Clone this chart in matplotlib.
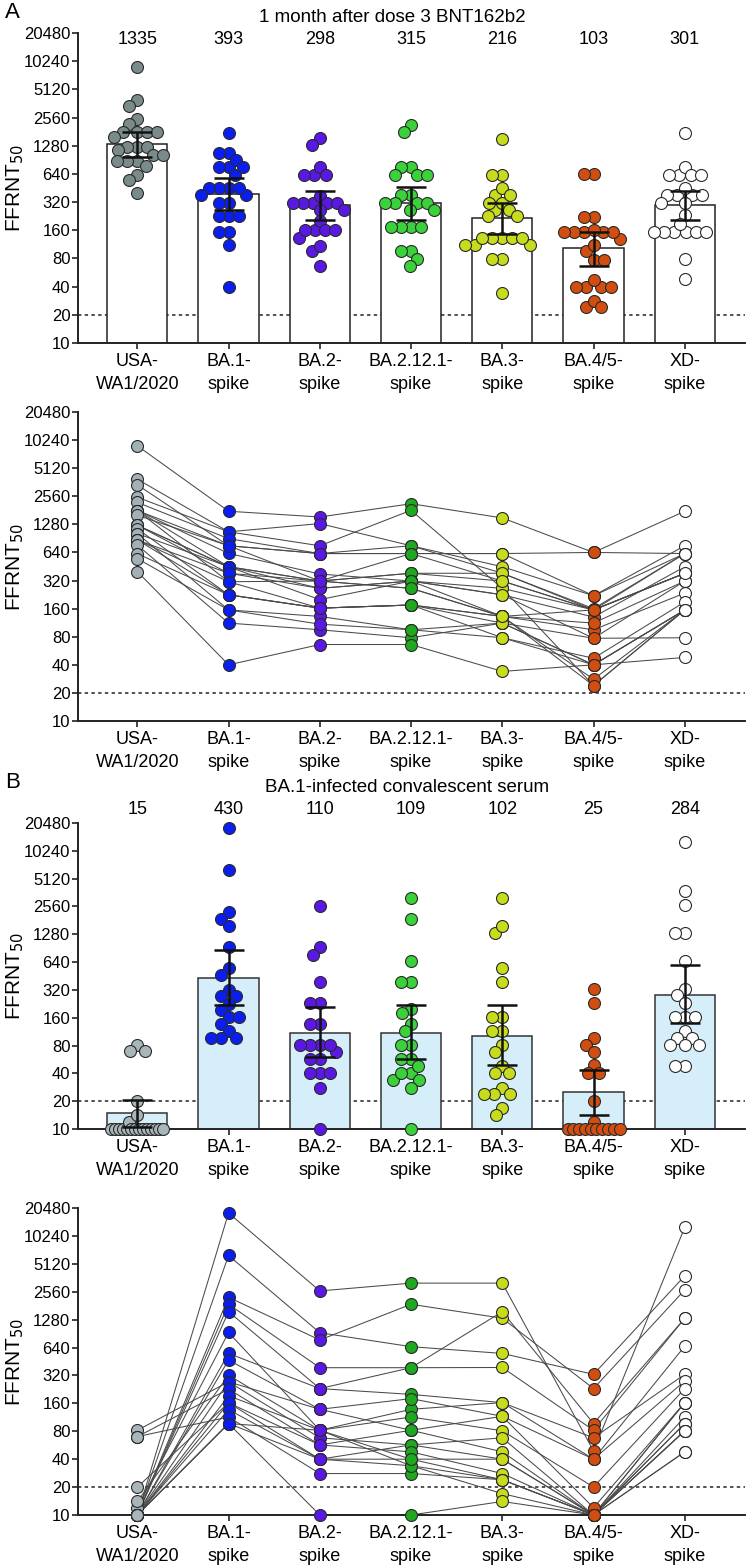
import numpy as np
import matplotlib
matplotlib.use('Agg')
import matplotlib.pyplot as plt
from matplotlib.transforms import blended_transform_factory

plt.rcParams['font.family'] = ['Liberation Sans', 'DejaVu Sans']

CATS = ['USA-\nWA1/2020', 'BA.1-\nspike', 'BA.2-\nspike', 'BA.2.12.1-\nspike',
        'BA.3-\nspike', 'BA.4/5-\nspike', 'XD-\nspike']
YTICKS = [10, 20, 40, 80, 160, 320, 640, 1280, 2560, 5120, 10240, 20480]

# ---- panel A: 1 month after dose 3 BNT162b2 (one entry per serum, same order in every list)
a_usa   = [8900, 3900, 3400, 2500, 2200, 1800, 1800, 1800, 1800, 1600, 1250, 1250,
           1250, 1150, 1020, 1020, 870, 870, 870, 770, 620, 550, 400]
a_ba1   = [1770, 1065, 755, 1065, 900, 450, 755, 625, 311, 755, 450, 383,
           450, 225, 450, 155, 383, 225, 311, 112, 225, 155, 40]
a_ba2   = [1535, 1305, 623, 755, 623, 316, 623, 376, 162, 316, 264, 316,
           200, 162, 316, 132, 264, 162, 316, 95, 162, 109, 66]
a_ba212 = [2130, 755, 623, 1810, 755, 383, 623, 316, 175, 383, 316, 264,
           316, 175, 623, 95, 316, 175, 264, 78, 175, 95, 66]
a_ba3   = [1500, 383, 623, 264, 450, 316, 623, 225, 112, 383, 264, 132,
           225, 132, 316, 112, 132, 78, 132, 112, 132, 78, 34]
a_ba45  = [640, 155, 640, 24, 220, 155, 220, 77, 40, 160, 155, 95,
           130, 28, 155, 40, 112, 47, 155, 77, 24, 40, 40]
a_xd    = [1770, 383, 623, 155, 755, 383, 623, 316, 155, 623, 383, 235,
           450, 155, 623, 155, 316, 189, 383, 78, 155, 155, 48]
a_gmt   = [1335, 393, 298, 315, 216, 103, 301]
a_ci_lo = [964, 264, 204, 207, 147, 67, 207]
a_ci_hi = [1810, 576, 422, 469, 311, 155, 422]

# ---- panel B: BA.1-infected convalescent serum
b_usa   = [10, 10, 10, 10, 10, 12, 10, 10, 14, 82, 10, 70, 10, 10, 20, 10, 70, 10, 10, 10]
b_ba1   = [18100, 6300, 2230, 1875, 1560, 930, 553, 469, 322, 273, 273, 228,
           193, 162, 162, 137, 114, 97, 97, 97]
b_ba2   = [2610, 925, 772, 388, 231, 82, 231, 138, 82, 138, 68, 57,
           82, 40, 57, 40, 28, 82, 40, 10]
b_ba212 = [3170, 654, 1875, 388, 388, 138, 200, 180, 114, 82, 57, 82,
           40, 57, 48, 34, 28, 34, 40, 10]
b_ba3   = [3170, 553, 1325, 1560, 390, 163, 163, 116, 81, 116, 68, 48,
           40, 40, 28, 24, 24, 17, 24, 14]
b_ba45  = [49, 329, 231, 97, 82, 40, 68, 40, 20, 12, 10, 10, 10, 10, 10, 10, 10, 10, 10, 10]
b_xd    = [12700, 3800, 2680, 1325, 1325, 663, 329, 279, 231, 163, 163, 163,
           114, 97, 97, 81, 81, 81, 48, 48]
b_gmt   = [15, 430, 110, 109, 102, 25, 284]
b_ci_lo = [10.5, 222, 60, 57, 49, 14.3, 140]
b_ci_hi = [20.5, 874, 209, 222, 220, 43.3, 601]

A_GROUPS = [a_usa, a_ba1, a_ba2, a_ba212, a_ba3, a_ba45, a_xd]
B_GROUPS = [b_usa, b_ba1, b_ba2, b_ba212, b_ba3, b_ba45, b_xd]

COL_A1 = ['#7b8b8b', '#0b1ef0', '#5a18e4', '#3bd13b', '#c6dc1c', '#d24e10', 'white']
COL_A2 = ['#a2b1b5', '#0b1ef0', '#5a18e4', '#20a820', '#c6dc1c', '#d24e10', 'white']
COL_B1 = ['#a9b6b9', '#0b1ef0', '#5a18e4', '#3bd13b', '#c6dc1c', '#d24e10', 'white']
COL_B2 = ['#a9b6b9', '#0b1ef0', '#5a18e4', '#20a820', '#c6dc1c', '#d24e10', 'white']

W, H = 750, 1566
fig = plt.figure(figsize=(W / 100, H / 100), dpi=100)

def axes_px(left, top, right, bottom):
    return fig.add_axes([left / W, 1 - bottom / H, (right - left) / W, (bottom - top) / H])

ax1 = axes_px(78, 33, 745, 343)
ax2 = axes_px(78, 412, 745, 721)
ax3 = axes_px(78, 823, 745, 1129)
ax4 = axes_px(78, 1208, 745, 1515)

XLIM = (-0.65, 6.66)
MS = 74
D_PX = 10.0
ROW_MAX_PX = 62.0


def style(ax):
    ax.set_yscale('log', base=2)
    ax.set_ylim(10, 20480)
    ax.set_xlim(*XLIM)
    ax.set_yticks(YTICKS)
    ax.set_yticklabels([str(t) for t in YTICKS], fontsize=12)
    ax.yaxis.set_minor_locator(matplotlib.ticker.NullLocator())
    ax.set_xticks(range(7))
    ax.set_xticklabels(CATS, fontsize=13, linespacing=1.45)
    ax.tick_params(axis='both', length=4, width=1.2, color='#222222')
    ax.tick_params(axis='x', pad=3)
    ax.tick_params(axis='y', pad=1.5)
    for s in ['top', 'right']:
        ax.spines[s].set_visible(False)
    for s in ['left', 'bottom']:
        ax.spines[s].set_linewidth(1.4)
        ax.spines[s].set_color('#222222')
    ax.axhline(20, color='#222222', ls=(0, (2.2, 2.2)), lw=1.1, zorder=1)
    ax.set_ylabel('FFRNT$_{50}$', fontsize=15)
    ax.yaxis.set_label_coords(-0.078, 0.5)


def swarm(vals, ax):
    bb = ax.get_position()
    px_x = bb.width * W / (XLIM[1] - XLIM[0])
    px_oct = bb.height * H / np.log2(20480 / 10)
    vals = np.array(vals, dtype=float)
    ys = np.log2(vals) * px_oct
    xs = np.zeros(len(ys))
    done = np.zeros(len(ys), bool)
    # rows of tied values too wide for the bar are packed evenly with overlap
    for v in np.unique(vals):
        idx = np.where(vals == v)[0]
        if len(idx) * D_PX > ROW_MAX_PX + D_PX:
            xs[idx] = np.linspace(-(ROW_MAX_PX - D_PX) / 2, (ROW_MAX_PX - D_PX) / 2, len(idx))
            done[idx] = True
    placed = []
    for i in np.argsort(-ys, kind='stable'):
        if done[i]:
            continue
        y = ys[i]
        cands = [0.0]
        for px, py in placed:
            dy = y - py
            if abs(dy) < D_PX:
                dx = np.sqrt(D_PX ** 2 - dy ** 2)
                cands += [px + dx, px - dx]
        cands.sort(key=lambda c: (round(abs(c), 3), c))
        for c in cands:
            if all((c - px) ** 2 + (y - py) ** 2 >= D_PX ** 2 - 1e-6 for px, py in placed):
                xs[i] = c
                break
        placed.append((xs[i], y))
    return xs / px_x


def bar_panel(ax, groups, gmt, lo, hi, colors, bar_fc, bar_ec):
    style(ax)
    ax.bar(range(7), gmt, width=0.66, bottom=0.001, color=bar_fc, edgecolor=bar_ec,
           linewidth=1.1, zorder=2)
    for i, vals in enumerate(groups):
        off = swarm(vals, ax)
        ax.scatter(i + off, vals, s=MS, c=colors[i], edgecolors='#2a2a2a',
                   linewidths=0.8, zorder=3, clip_on=False)
    yerr = [np.array(gmt) - np.array(lo), np.array(hi) - np.array(gmt)]
    ax.errorbar(range(7), gmt, yerr=yerr, fmt='none', ecolor='#111111', elinewidth=1.8,
                capsize=10.5, capthick=1.8, zorder=4)
    ax.set_ylim(10, 20480)


def paired_panel(ax, groups, colors):
    style(ax)
    data = np.array(groups, dtype=float)
    for j in range(data.shape[1]):
        ax.plot(range(7), data[:, j], color='#4a4a4a', lw=0.75, zorder=2)
    for i in range(7):
        ax.scatter(np.full(data.shape[1], i), data[i], s=MS, c=colors[i],
                   edgecolors='#2a2a2a', linewidths=0.8, zorder=3, clip_on=False)


bar_panel(ax1, A_GROUPS, a_gmt, a_ci_lo, a_ci_hi, COL_A1, 'white', '#222222')
paired_panel(ax2, A_GROUPS, COL_A2)
bar_panel(ax3, B_GROUPS, b_gmt, b_ci_lo, b_ci_hi, COL_B1, '#d5eef9', '#333333')
paired_panel(ax4, B_GROUPS, COL_B2)

# GMT labels above the bars
for ax, gmt, ypx in [(ax1, a_gmt, 40), (ax3, b_gmt, 810)]:
    tr = blended_transform_factory(ax.transData, fig.transFigure)
    for i, g in enumerate(gmt):
        ax.text(i, 1 - ypx / H, str(g), transform=tr, ha='center', va='center', fontsize=13)

fig.text(392 / W, 1 - 17 / H, '1 month after dose 3 BNT162b2', ha='center', va='center', fontsize=13.5)
fig.text(407 / W, 1 - 787 / H, 'BA.1-infected convalescent serum', ha='center', va='center', fontsize=13.5)
fig.text(5 / W, 1 - 12 / H, 'A', ha='left', va='center', fontsize=16)
fig.text(5 / W, 1 - 783 / H, 'B', ha='left', va='center', fontsize=16)

fig.savefig('out.png', dpi=100, facecolor='white')
